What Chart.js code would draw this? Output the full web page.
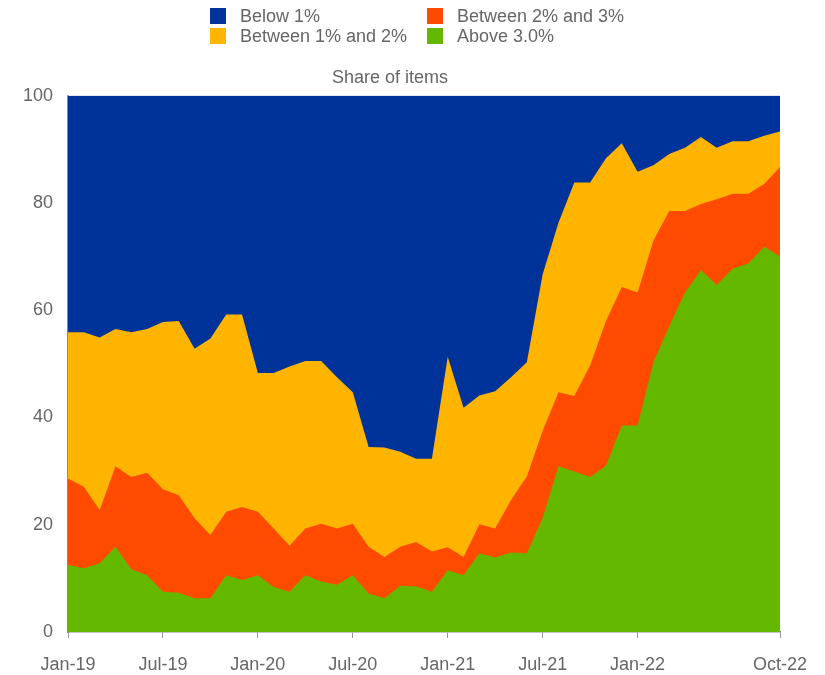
<!DOCTYPE html>
<html>
<head>
<meta charset="utf-8">
<script src="https://cdn.jsdelivr.net/npm/chart.js@4/dist/chart.umd.min.js"></script>
<style>
  body { margin: 0; background: #fff; }
  #wrap { position: relative; width: 825px; height: 675px; }
  #legend { position: absolute; top: 6px; left: 210px; font: 18px "Liberation Sans", Arial, sans-serif; color: #666; }
  .item { position: absolute; white-space: nowrap; line-height: 20px; }
  .item span { display: inline-block; width: 16px; height: 16px; vertical-align: -2px; margin-right: 14px; }
</style>
</head>
<body>
<div id="wrap">
  <canvas id="chart" width="825" height="675"></canvas>
  <div id="legend"></div>
</div>
<script>
// monthly, Jan-19 .. Oct-22
const months = ["Jan", "Feb", "Mar", "Apr", "May", "Jun", "Jul", "Aug", "Sep", "Oct", "Nov", "Dec"];
const labels = [];
for (let y = 19; y <= 22; y++) {
    for (let m = 0; m < 12; m++) {
        if (y === 22 && m > 9) break;
        labels.push(months[m] + "-" + y);
    }
}
const tickLabels = ["Jan-19", "Jul-19", "Jan-20", "Jul-20", "Jan-21", "Jul-21", "Jan-22", "Oct-22"];

// shares of items, %
const above3 = [12.5, 11.9, 12.8, 15.9, 11.7, 10.6, 7.5, 7.3, 6.3, 6.3, 10.6, 9.7, 10.6, 8.4, 7.5, 10.6, 9.4, 8.8, 10.6, 7.2, 6.3, 8.6, 8.5, 7.5, 11.5, 10.6, 14.7, 13.9, 14.8, 14.7, 21.3, 30.9, 29.9, 28.9, 31.0, 38.5, 38.5, 50.3, 57.0, 63.3, 67.5, 64.7, 67.7, 68.7, 71.8, 70.0];
const between2and3 = [16.1, 15.2, 9.9, 15.0, 17.2, 19.1, 19.1, 18.2, 14.9, 11.8, 11.8, 13.6, 11.8, 10.9, 8.6, 8.7, 10.8, 10.5, 9.6, 8.7, 7.7, 7.3, 8.3, 7.5, 4.3, 3.4, 5.4, 5.4, 9.8, 14.3, 16.2, 13.8, 14.1, 20.8, 27.0, 25.8, 24.8, 22.7, 21.5, 15.2, 12.3, 16.0, 14.0, 13.0, 11.7, 16.7];
const between1and2 = [27.3, 28.8, 32.2, 25.6, 27.0, 26.8, 31.2, 32.5, 31.6, 36.6, 36.8, 35.9, 25.9, 29.0, 33.4, 31.2, 30.3, 28.2, 24.5, 18.6, 20.4, 17.7, 15.5, 17.3, 35.5, 27.8, 24.0, 25.6, 22.9, 21.3, 29.2, 31.6, 39.8, 34.1, 30.3, 26.8, 22.5, 14.0, 10.6, 11.8, 12.5, 9.6, 9.8, 9.8, 9.0, 6.6];
const below1 = [44.1, 44.1, 45.1, 43.5, 44.1, 43.5, 42.2, 42.0, 47.2, 45.3, 40.8, 40.8, 51.7, 51.7, 50.5, 49.5, 49.5, 52.5, 55.3, 65.5, 65.6, 66.4, 67.7, 67.7, 48.7, 58.2, 55.9, 55.1, 52.5, 49.7, 33.3, 23.7, 16.2, 16.2, 11.7, 8.9, 14.2, 13.0, 10.9, 9.7, 7.7, 9.7, 8.5, 8.5, 7.5, 6.7];

const BLUE = "#003399", YELLOW = "#ffb400", RED = "#ff4b00", GREEN = "#65b800";
const FONT = "'Liberation Sans', Arial, sans-serif";

function area(label, data, color) {
    return {
        label: label,
        data: data,
        backgroundColor: color,
        borderWidth: 0,
        pointRadius: 0,
        fill: true,
        tension: 0
    };
}

// legend laid out in two columns like the original
const legendItems = [
    ["Below 1%", BLUE, 0, 0],
    ["Between 1% and 2%", YELLOW, 0, 20],
    ["Between 2% and 3%", RED, 217, 0],
    ["Above 3.0%", GREEN, 217, 20]
];
const legend = document.getElementById("legend");
legendItems.forEach(function (it) {
    const d = document.createElement("div");
    d.className = "item";
    d.style.left = it[2] + "px";
    d.style.top = it[3] + "px";
    d.innerHTML = '<span style="background:' + it[1] + '"></span>' + it[0];
    legend.appendChild(d);
});

new Chart(document.getElementById("chart"), {
    type: "line",
    data: {
        labels: labels,
        datasets: [
            area("Above 3.0%", above3, GREEN),
            area("Between 2% and 3%", between2and3, RED),
            area("Between 1% and 2%", between1and2, YELLOW),
            area("Below 1%", below1, BLUE)
        ]
    },
    options: {
        responsive: false,
        animation: false,
        layout: { padding: { left: 0, right: 45, top: 0, bottom: 0 } },
        plugins: {
            legend: { display: false },
            tooltip: { enabled: false },
            title: {
                display: true,
                text: "Share of items",
                color: "#666",
                font: { family: FONT, size: 18, weight: "normal" },
                padding: { top: 67, bottom: 7 }
            }
        },
        scales: {
            x: {
                offset: false,
                grid: { display: true, drawOnChartArea: false, tickLength: 6, color: "#999" },
                border: { color: "#888", width: 1.5 },
                ticks: { color: "#666", font: { family: FONT, size: 18 }, maxRotation: 0, autoSkip: false, padding: 16 },
                afterBuildTicks: function (axis) {
                    axis.ticks = axis.ticks.filter(function (t) {
                        return tickLabels.indexOf(labels[t.value]) >= 0;
                    });
                },
                afterFit: function (axis) { axis.height = 43; }
            },
            y: {
                stacked: true,
                min: 0,
                max: 100,
                grid: { display: false, drawTicks: false },
                border: { color: "#888", width: 1.5 },
                ticks: { stepSize: 20, color: "#666", font: { family: FONT, size: 18 }, padding: 15 },
                afterFit: function (axis) { axis.width = 68; }
            }
        }
    }
});
</script>
</body>
</html>
